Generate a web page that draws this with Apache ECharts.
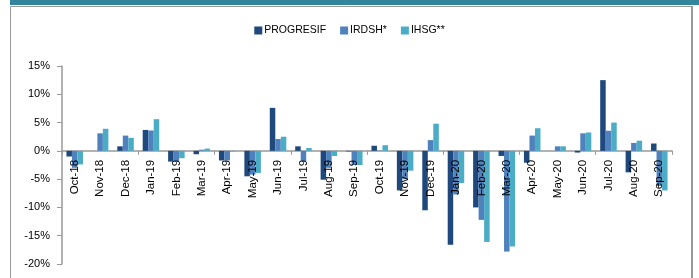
<!DOCTYPE html>
<html>
<head>
<meta charset="utf-8">
<script src="https://cdn.jsdelivr.net/npm/echarts@6/dist/echarts.min.js"></script>
<style>
html,body{margin:0;padding:0;background:#fff;}
#c{width:699px;height:278px;}
</style>
</head>
<body>
<div id="c"></div>
<script>
const categories = ["Oct-18","Nov-18","Dec-18","Jan-19","Feb-19","Mar-19","Apr-19","May-19","Jun-19","Jul-19","Aug-19","Sep-19","Oct-19","Nov-19","Dec-19","Jan-20","Feb-20","Mar-20","Apr-20","May-20","Jun-20","Jul-20","Aug-20","Sep-20"];
const progresif = [-1.0, 0, 0.8, 3.7, -1.9, -0.6, -1.7, -4.5, 7.6, 0.8, -5.1, -0.1, 0.9, -7.0, -10.5, -16.6, -10.0, -0.9, -2.1, 0, -0.3, 12.5, -3.8, 1.3];
const irdsh = [-3.0, 3.1, 2.7, 3.6, -1.8, 0.2, -1.7, -4.2, 2.1, -1.8, -3.0, -2.5, 0.05, -5.0, 1.9, -7.7, -12.2, -17.8, 2.7, 0.8, 3.1, 3.55, 1.4, -6.2];
const ihsg = [-2.4, 3.9, 2.3, 5.6, -1.3, 0.4, -0.1, -3.9, 2.5, 0.5, -0.9, -2.5, 1.0, -3.5, 4.8, -5.7, -16.1, -16.9, 4.0, 0.8, 3.25, 5.0, 1.8, -7.0];
const seriesNames = ["PROGRESIF","IRDSH*","IHSG**"];
const yTicks = {min: -20, max: 15, interval: 5};

const FONT = '"Liberation Sans", Arial, sans-serif';
const chart = echarts.init(document.getElementById('c'), null, {renderer: 'canvas'});
const colors = ['#1F497D', '#4F81BD', '#4BACC6'];
const gridTop = 66, gridBottom = 14, gridLeft = 62, gridRight = 27;
const plotH = 278 - gridTop - gridBottom;
// height of the part of the plot above zero, from the y scale
const zeroFromTop = plotH * (yTicks.max - 0) / (yTicks.max - yTicks.min);
chart.setOption({
  animation: false,
  color: colors,
  graphic: [
    {type: 'rect', shape: {x: 10, y: 0, width: 689, height: 5}, style: {fill: '#31859C'}, silent: true},
    {type: 'polyline', shape: {points: [[10.5, 278], [10.5, 6.5], [692, 6.5]]}, style: {stroke: '#9a9a9a', lineWidth: 1, fill: null}, silent: true},
    {type: 'line', shape: {x1: 692, y1: 6, x2: 692, y2: 278}, style: {stroke: '#999', lineWidth: 2}, silent: true}
  ],
  legend: {
    top: 20,
    left: 'center',
    itemWidth: 8,
    itemHeight: 8,
    itemGap: 14,
    icon: 'rect',
    textStyle: {fontFamily: FONT, fontSize: 10.5, color: '#000', padding: [0,0,0,-3]},
    data: seriesNames
  },
  grid: [
    {left: gridLeft, right: gridRight, top: gridTop, bottom: gridBottom, containLabel: false, outerBoundsMode: 'none'},
    {left: gridLeft, right: gridRight, top: gridTop, height: zeroFromTop, containLabel: false, outerBoundsMode: 'none'}
  ],
  xAxis: [
    {
      type: 'category', gridIndex: 0,
      data: categories,
      axisLine: {onZero: true, lineStyle: {color: '#999', width: 1.5}},
      axisTick: {show: true, length: 4, lineStyle: {color: '#999'}},
      axisLabel: {show: false}
    },
    {
      type: 'category', gridIndex: 1, position: 'bottom', z: 5,
      data: categories,
      axisLine: {show: false},
      axisTick: {show: false},
      axisLabel: {rotate: 90, fontFamily: FONT, fontSize: 11.5, color: '#000', margin: 9, interval: 0}
    }
  ],
  yAxis: [
    {
      type: 'value', gridIndex: 0,
      min: yTicks.min, max: yTicks.max, interval: yTicks.interval,
      axisLine: {show: true, lineStyle: {color: '#999', width: 1.5}},
      axisTick: {show: true, length: 5, lineStyle: {color: '#999'}},
      splitLine: {show: false},
      axisLabel: {fontFamily: FONT, fontSize: 11, color: '#000', margin: 12, formatter: v => v + '%'}
    },
    {type: 'value', gridIndex: 1, show: false, splitLine: {show: false}}
  ],
  series: [
    {name: seriesNames[0], type: 'bar', data: progresif, barGap: '0%', barCategoryGap: '35%'},
    {name: seriesNames[1], type: 'bar', data: irdsh, barGap: '0%', barCategoryGap: '35%'},
    {name: seriesNames[2], type: 'bar', data: ihsg, barGap: '0%', barCategoryGap: '35%'}
  ]
});
</script>
</body>
</html>
